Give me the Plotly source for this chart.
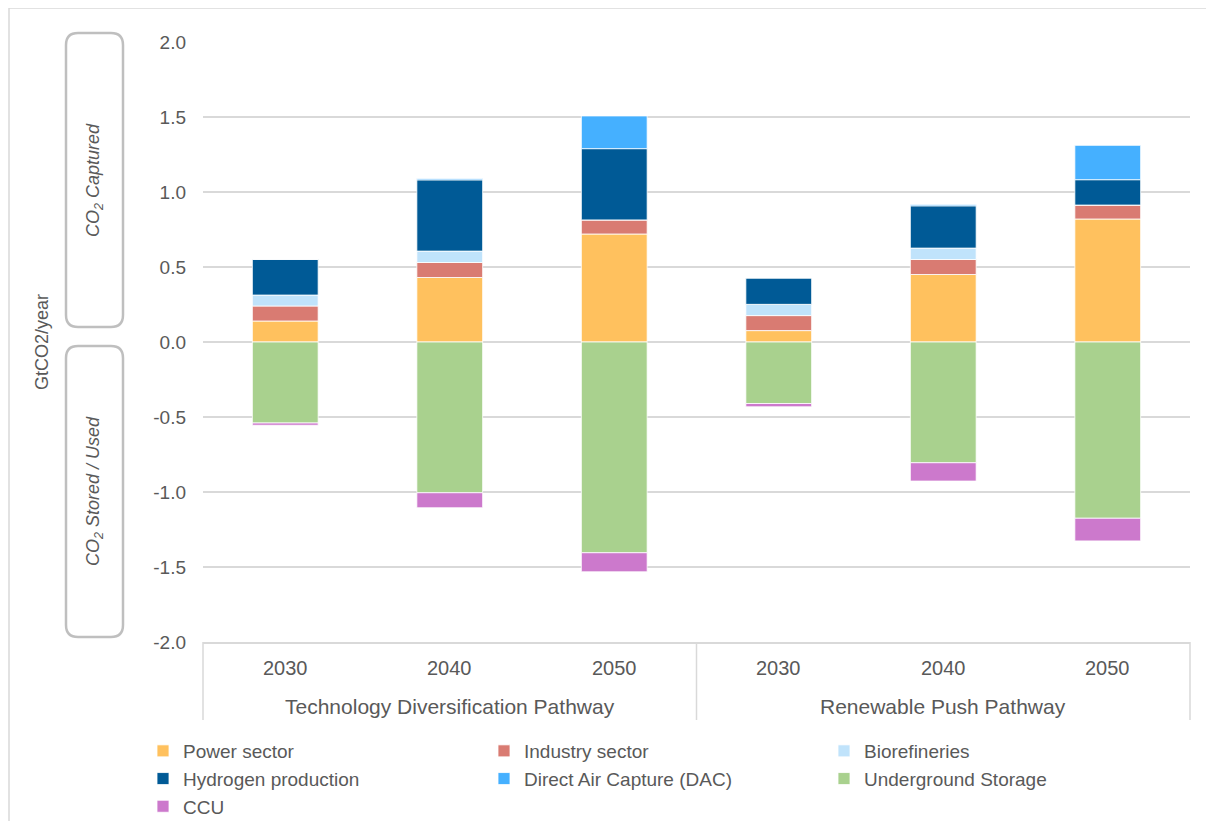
import plotly.graph_objects as go

# =============================================================================
# DATA (GtCO2/year)
# =============================================================================

PATHWAYS = ["Technology Diversification Pathway"] * 3 + ["Renewable Push Pathway"] * 3
YEARS = ["2030", "2040", "2050", "2030", "2040", "2050"]

POWER = [0.14, 0.43, 0.72, 0.076, 0.45, 0.82]
INDUSTRY = [0.10, 0.10, 0.094, 0.10, 0.10, 0.093]
BIOREFINERIES = [0.073, 0.076, 0.0, 0.075, 0.076, 0.0]
HYDROGEN = [0.238, 0.475, 0.475, 0.176, 0.282, 0.169]
DAC = [0.0, 0.009, 0.218, 0.0, 0.009, 0.229]
UNDERGROUND = [-0.54, -1.005, -1.405, -0.41, -0.805, -1.175]
CCU = [-0.015, -0.10, -0.127, -0.022, -0.122, -0.151]

Y_TICKS = [2.0, 1.5, 1.0, 0.5, 0.0, -0.5, -1.0, -1.5, -2.0]
Y_LABELS = ["2.0", "1.5", "1.0", "0.5", "0.0", "-0.5", "-1.0", "-1.5", "-2.0"]

# =============================================================================
# CONFIG VISUAL
# =============================================================================

FONT = "Liberation Sans, Arial, sans-serif"
TEXT = "#595959"
GRID = "#D9D9D9"
BOX = "#BFBFBF"

SERIES = [
    ("Power sector", POWER, "#FFC15E"),
    ("Industry sector", INDUSTRY, "#D97B72"),
    ("Biorefineries", BIOREFINERIES, "#C0E3FB"),
    ("Hydrogen production", HYDROGEN, "#005A96"),
    ("Direct Air Capture (DAC)", DAC, "#45B0FF"),
    ("Underground Storage", UNDERGROUND, "#A9D18E"),
    ("CCU", CCU, "#CC79CC"),
]

# page body has an 8px margin -> figure is drawn 8px smaller and everything
# below is given in screen pixels
OFF = 8
W, H = 1214 - OFF, 821 - OFF
PX0, PX1, PY0, PY1 = 203, 1190, 42, 642  # plot area on screen
PW, PH = PX1 - PX0, PY1 - PY0
LEGEND_COLS = [143, 484, 824]  # left edge of each legend column
LEGEND_TOP = 732


def px_x(px):
    return (px - PX0) / PW


def px_y(py):
    return 1 - (py - PY0) / PH


def rounded_box(x0, y0, x1, y1, r=12):
    ax0, ax1 = px_x(x0), px_x(x1)
    ay0, ay1 = px_y(y0), px_y(y1)
    rx, ry = r / PW, r / PH
    return (
        f"M{ax0 + rx},{ay0} L{ax1 - rx},{ay0} Q{ax1},{ay0} {ax1},{ay0 - ry} "
        f"L{ax1},{ay1 + ry} Q{ax1},{ay1} {ax1 - rx},{ay1} "
        f"L{ax0 + rx},{ay1} Q{ax0},{ay1} {ax0},{ay1 + ry} "
        f"L{ax0},{ay0 - ry} Q{ax0},{ay0} {ax0 + rx},{ay0} Z"
    )


# =============================================================================
# FIGURE
# =============================================================================

fig = go.Figure()

legend_ids = ["legend", "legend2", "legend3"]

for i, (name, vals, color) in enumerate(SERIES):
    fig.add_trace(
        go.Bar(
            x=[PATHWAYS, YEARS],
            y=vals,
            name=name,
            legend=legend_ids[i % 3],
            marker=dict(color=color, line=dict(color="white", width=0.8)),
        )
    )

n = len(YEARS)

shapes = [
    dict(type="path", xref="paper", yref="paper", path=rounded_box(66, 33, 123, 327),
         line=dict(color=BOX, width=2.5)),
    dict(type="path", xref="paper", yref="paper", path=rounded_box(66, 346, 123, 637),
         line=dict(color=BOX, width=2.5)),
    # outer frame (left + top)
    dict(type="line", xref="paper", yref="paper", x0=px_x(9), x1=px_x(9), y0=px_y(8), y1=px_y(830),
         line=dict(color=GRID, width=1.5)),
    dict(type="line", xref="paper", yref="paper", x0=px_x(9), x1=px_x(1230), y0=px_y(8), y1=px_y(8),
         line=dict(color=GRID, width=1.5)),
]

# category box dividers
groups = []
for p in PATHWAYS:
    if p not in groups:
        groups.append(p)
edges = [0]
for g in groups:
    edges.append(edges[-1] + PATHWAYS.count(g))
for e in edges:
    shapes.append(dict(type="line", xref="paper", yref="paper", x0=e / n, x1=e / n,
                       y0=px_y(642), y1=px_y(720), line=dict(color=GRID, width=1.5)))

annotations = [
    dict(x=px_x(42), y=0.5, xref="paper", yref="paper", text="GtCO2/year", textangle=-90,
         xanchor="center", yanchor="middle", showarrow=False, font=dict(size=18, color=TEXT)),
    dict(x=px_x(94), y=px_y(180), xref="paper", yref="paper", text="<i>CO<sub>2</sub> Captured</i>",
         textangle=-90, xanchor="center", yanchor="middle", showarrow=False,
         font=dict(size=18, color=TEXT)),
    dict(x=px_x(94), y=px_y(491), xref="paper", yref="paper", text="<i>CO<sub>2</sub> Stored / Used</i>",
         textangle=-90, xanchor="center", yanchor="middle", showarrow=False,
         font=dict(size=18, color=TEXT)),
]

for i, yr in enumerate(YEARS):
    annotations.append(dict(x=(i + 0.5) / n, y=px_y(668), xref="paper", yref="paper", text=yr,
                            xanchor="center", yanchor="middle", showarrow=False,
                            font=dict(size=20, color=TEXT)))
for k, g in enumerate(groups):
    annotations.append(dict(x=(edges[k] + edges[k + 1]) / 2 / n, y=px_y(706), xref="paper",
                            yref="paper", text=g, xanchor="center", yanchor="middle",
                            showarrow=False, font=dict(size=21, color=TEXT)))


def legend_cfg(left_px):
    return dict(
        orientation="v",
        xref="container",
        x=(left_px - OFF) / W,
        xanchor="left",
        yref="container",
        y=1 - (LEGEND_TOP - OFF) / H,
        yanchor="top",
        itemwidth=30,
        traceorder="normal",
        bgcolor="rgba(0,0,0,0)",
        font=dict(size=19, color=TEXT),
    )


fig.update_layout(
    width=W,
    height=H,
    template="plotly_white",
    barmode="relative",
    bargap=0.6,
    margin=dict(l=PX0 - OFF, r=W - (PX1 - OFF), t=PY0 - OFF, b=H - (PY1 - OFF), autoexpand=False),
    paper_bgcolor="white",
    plot_bgcolor="white",
    font=dict(family=FONT, size=20, color=TEXT),
    shapes=shapes,
    annotations=annotations,
    legend=legend_cfg(LEGEND_COLS[0]),
    legend2=legend_cfg(LEGEND_COLS[1]),
    legend3=legend_cfg(LEGEND_COLS[2]),
)

fig.update_yaxes(
    range=[-2, 2],
    tickvals=Y_TICKS,
    ticktext=Y_LABELS,
    showgrid=True,
    gridcolor=GRID,
    gridwidth=1.5,
    zeroline=True,
    zerolinecolor=GRID,
    zerolinewidth=1.5,
    ticks="",
    ticklabelstandoff=16,
    automargin=False,
    tickfont=dict(size=19, color=TEXT),
)

fig.update_xaxes(
    showline=True,
    linecolor=GRID,
    linewidth=1.5,
    showdividers=False,
    showticklabels=False,
    showgrid=False,
    ticks="",
    automargin=False,
)

fig.write_html("out.html")
